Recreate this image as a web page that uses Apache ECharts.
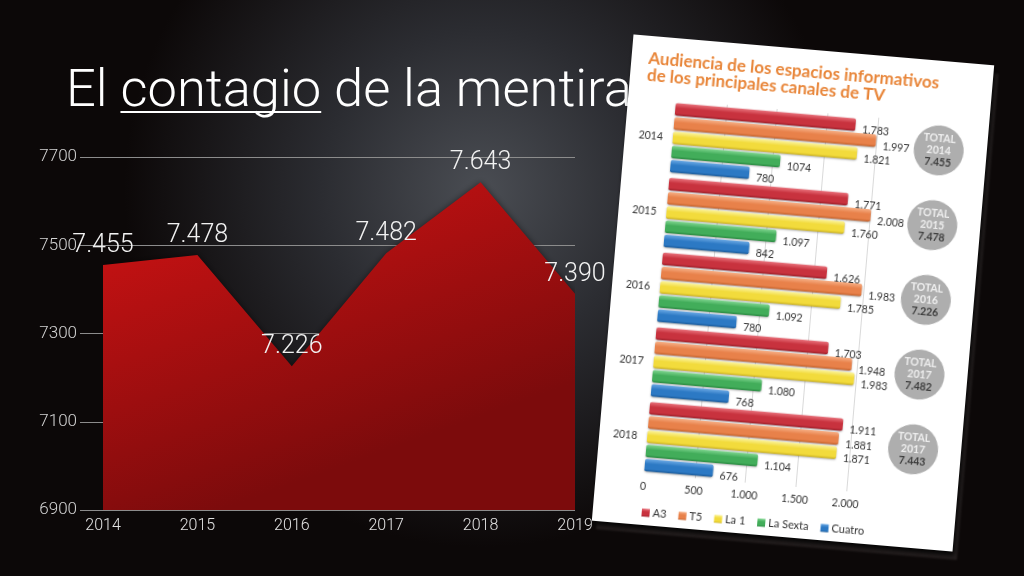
<!DOCTYPE html>
<html>
<head>
<meta charset="utf-8">
<script src="https://cdn.jsdelivr.net/npm/echarts@6/dist/echarts.min.js"></script>
<style>
html,body{margin:0;padding:0;width:1024px;height:576px;overflow:hidden;background:#111;}
#main{position:absolute;left:0;top:0;width:1024px;height:576px;}
#paper{position:absolute;left:612px;top:49px;width:362px;height:488px;background:#fff;
  transform:rotate(4.9deg);transform-origin:50% 50%;
  box-shadow:2px 4px 5px rgba(0,0,0,0.9), 5px 8px 2px rgba(60,52,52,0.55);}
#paperChart{position:absolute;left:0;top:0;width:362px;height:488px;}
</style>
</head>
<body>
<div id="main"></div>
<div id="paper"><div id="paperChart"></div></div>
<script>
// ---------- data: left slide chart ----------
const years = ['2014', '2015', '2016', '2017', '2018', '2019'];
const totalAudience = [7455, 7478, 7226, 7482, 7643, 7390];
const yMin = 6900, yMax = 7700, yStep = 200;

// ---------- data: photographed bar chart ----------
const channels = ['A3', 'T5', 'La 1', 'La Sexta', 'Cuatro'];
const paperYears = ['2014', '2015', '2016', '2017', '2018'];
const a3 = [1783, 1771, 1626, 1703, 1911];
const t5 = [1997, 2008, 1983, 1948, 1881];
const la1 = [1821, 1760, 1785, 1983, 1871];
const laSexta = [1074, 1097, 1092, 1080, 1104];
const cuatro = [780, 842, 780, 768, 676];
const totals = [7455, 7478, 7226, 7482, 7443];
const totalYearLabels = ['2014', '2015', '2016', '2017', '2017'];
const plainLabels = { 'La Sexta': [0] }; // printed without thousands dot in the source
const xMax = 2000, xStep = 500;

function fmt(v) {
  v = Math.round(v);
  if (v >= 1000) return Math.floor(v / 1000) + '.' + String(v % 1000).padStart(3, '0');
  return String(v);
}

// ---------- left chart ----------
const titleText = 'El contagio de la mentira';
const ctx = document.createElement('canvas').getContext('2d');
const baseFont = 'Roboto';
ctx.font = '300 50px ' + baseFont;
const fullW = ctx.measureText(titleText).width;
const titleSize = 50 * 566 / fullW;
ctx.font = '300 ' + titleSize + 'px ' + baseFont;
const preW = ctx.measureText('El ').width;
const wordW = ctx.measureText('contagio').width;
const titleLeft = 66;

const main = echarts.init(document.getElementById('main'));
main.setOption({
  backgroundColor: {
    type: 'radial', x: 0.47, y: 0.33, r: 0.62,
    colorStops: [
      { offset: 0, color: '#4a4d53' },
      { offset: 0.45, color: '#2b2c31' },
      { offset: 1, color: '#0c0808' }
    ]
  },
  textStyle: { fontFamily: baseFont },
  animation: false,
  grid: { left: 103, right: 449, top: 157, bottom: 66 },
  xAxis: {
    type: 'category', data: years, boundaryGap: false,
    axisLine: { show: false }, axisTick: { show: false },
    axisLabel: { color: '#e2e2e2', fontSize: 16, fontWeight: 300, margin: 8 }
  },
  yAxis: {
    type: 'value', min: yMin, max: yMax, interval: yStep,
    axisLine: { show: false },
    axisTick: { show: true, length: 23, lineStyle: { color: '#8c8c8c' } },
    axisLabel: { color: '#d4d4d4', fontSize: 17, fontWeight: 300, margin: 26, formatter: v => String(v) },
    splitLine: { lineStyle: { color: '#8c8c8c', width: 1 } }
  },
  series: [{
    type: 'line', data: totalAudience,
    symbol: 'circle', symbolSize: 1, itemStyle: { color: 'rgba(0,0,0,0)' },
    lineStyle: { width: 0 },
    areaStyle: {
      opacity: 1,
      color: { type: 'linear', x: 0, y: 0, x2: 0.25, y2: 1,
        colorStops: [{ offset: 0, color: '#d41314' }, { offset: 1, color: '#7c0b0c' }] },
      shadowBlur: 6, shadowColor: 'rgba(0,0,0,0.5)'
    },
    label: {
      show: true, position: 'top', distance: 6,
      color: '#f2f2f2', fontSize: 25, fontWeight: 300,
      formatter: p => fmt(p.value)
    }
  }],
  graphic: [
    { type: 'text', left: titleLeft, top: 66,
      style: { text: titleText, fill: '#ffffff', font: '300 ' + titleSize + 'px ' + baseFont } },
    { type: 'line', shape: { x1: titleLeft + preW, y1: 112, x2: titleLeft + preW + wordW, y2: 112 },
      style: { stroke: '#ffffff', lineWidth: 2 } }
  ]
});

// ---------- paper chart ----------
function cyl(light, base, dark) {
  return { type: 'linear', x: 0, y: 0, x2: 0, y2: 1, colorStops: [
    { offset: 0, color: light }, { offset: 0.4, color: base },
    { offset: 0.8, color: base }, { offset: 1, color: dark } ] };
}
const barColors = [
  cyl('#e8707a', '#c8323e', '#9c1f2a'),
  cyl('#f6ae84', '#e8814a', '#c2602a'),
  cyl('#fbf39a', '#f2db3c', '#cfb41c'),
  cyl('#80d690', '#42ad5a', '#2b8a42'),
  cyl('#6aa8e4', '#2c79c4', '#1b5a98')
];
const barData = [a3, t5, la1, laSexta, cuatro];

const paper = echarts.init(document.getElementById('paperChart'));
paper.setOption({
  animation: false,
  textStyle: { fontFamily: 'Lato' },
  title: {
    text: 'Audiencia de los espacios informativos\nde los principales canales de TV',
    left: 12, top: 9,
    textStyle: { color: '#e8863a', fontSize: 17, fontWeight: 'bold', lineHeight: 17 }
  },
  legend: {
    data: channels, left: 44, top: 465, icon: 'rect',
    itemWidth: 8, itemHeight: 8, itemGap: 12,
    textStyle: { color: '#333', fontSize: 11, padding: [0, 0, 0, -2] }
  },
  grid: [
    { left: 48, right: 111, top: 62, bottom: 51 },
    { left: 289, width: 50, top: 52, bottom: 61 }
  ],
  xAxis: [
    { type: 'value', min: 0, max: xMax, interval: xStep,
      axisLine: { show: false }, axisTick: { show: false },
      splitLine: { showMinLine: false, lineStyle: { color: '#d9d9d9' } },
      axisLabel: { formatter: fmt, color: '#333', fontSize: 10.5, margin: 7 } },
    { gridIndex: 1, type: 'value', min: 0, max: 1, show: false }
  ],
  yAxis: [
    { type: 'category', data: paperYears, inverse: true,
      axisLine: { show: false }, axisTick: { show: false },
      axisLabel: { color: '#333', fontSize: 10.5, margin: 10 } },
    { gridIndex: 1, type: 'category', data: paperYears, inverse: true, show: false }
  ],
  series: channels.map((name, si) => ({
    name, type: 'bar', data: barData[si], clip: false,
    barWidth: 12.5, barGap: '14%',
    itemStyle: { color: barColors[si], borderRadius: 2,
      shadowBlur: 2, shadowOffsetY: 1, shadowColor: 'rgba(0,0,0,0.3)' },
    label: { show: true, position: 'right', offset: [2, 5], color: '#333', fontSize: 10.5,
      formatter: p => (plainLabels[name] && plainLabels[name].includes(p.dataIndex)) ? String(p.value) : fmt(p.value) }
  })).concat([{
    type: 'scatter', xAxisIndex: 1, yAxisIndex: 1,
    data: totals.map((t, i) => [0.5, i, t]),
    symbolSize: 50, itemStyle: { color: '#9a9a9a' },
    label: {
      show: true, position: 'inside',
      formatter: p => '{t|TOTAL}\n{t|' + totalYearLabels[p.dataIndex] + '}\n{v|' + fmt(p.value[2]) + '}',
      rich: {
        t: { color: '#ffffff', fontSize: 10.5, fontWeight: 'bold', lineHeight: 12 },
        v: { color: '#222222', fontSize: 10.5, fontWeight: 'bold', lineHeight: 12 }
      }
    }
  }])
});
</script>
</body>
</html>
